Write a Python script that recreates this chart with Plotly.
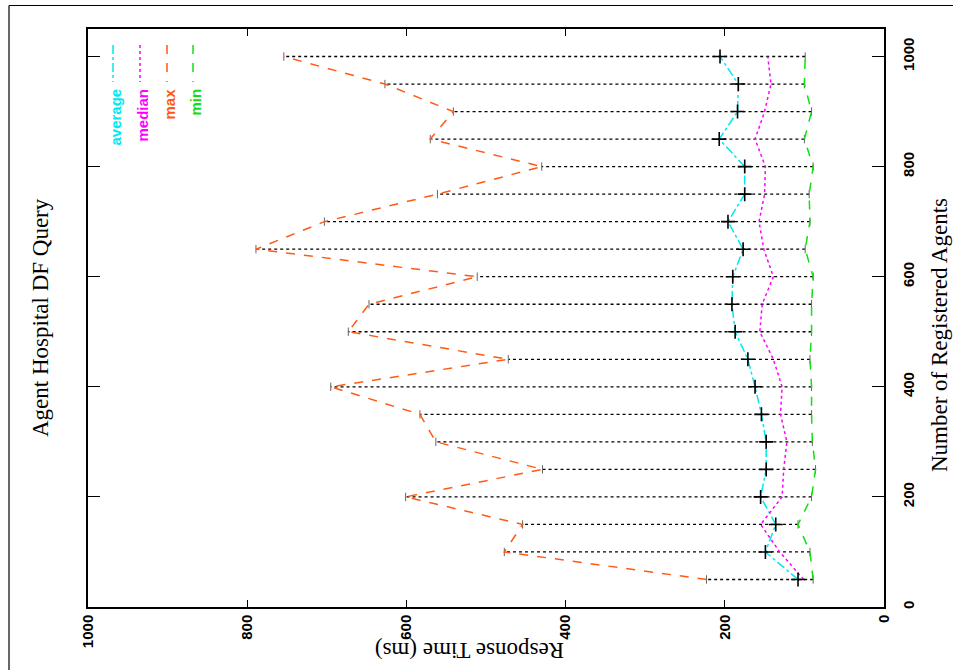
import plotly.graph_objects as go

# ---- data ----
agents = [50, 100, 150, 200, 250, 300, 350, 400, 450, 500,
          550, 600, 650, 700, 750, 800, 850, 900, 950, 1000]
avg_ms = [108, 149, 136, 155, 148, 148, 154, 162, 171, 187,
          191, 190, 177, 196, 175, 175, 207, 184, 183, 206]
median_ms = [101, 131, 155, 128, 126, 122, 130, 128, 139, 156,
             153, 139, 151, 157, 150, 149, 162, 150, 142, 146]
max_ms = [223, 477, 454, 601, 429, 563, 583, 695, 472, 673,
          647, 511, 789, 703, 561, 430, 570, 541, 627, 754]
min_ms = [89, 93, 108, 91, 86, 90, 91, 91, 93, 91,
          91, 89, 99, 93, 94, 89, 100, 91, 100, 99]
resp_ticks = [0, 200, 400, 600, 800, 1000]
agent_ticks = [0, 200, 400, 600, 800, 1000]

title_text = "Agent Hospital DF Query"
x_title = "Number of Registered Agents"
y_title = "Response Time (ms)"
series_names = ["average", "median", "max", "min"]
series_colors = ["#00e8f0", "#ff00ff", "#ff5a14", "#10e010"]
series_dash = ["dashdot", "dot", "dash", "dash"]

W, H = 953, 670
PL, PR, PT, PB = 88, 884, 29, 607          # plot frame in screen pixels
ML, MT = PL, PT
MR, MB = W - PR, H - PB
PW, PH = W - ML - MR, H - MT - MB


def px(xs):
    # screen x -> paper x
    return (xs - ML) / PW


def py(ys):
    # screen y -> paper y
    return (H - MB - ys) / PH


SERIF = "Liberation Serif, Times New Roman, serif"
SANS = "Liberation Sans, Arial, Helvetica, sans-serif"

fig = go.Figure()

# error bars (min -> max), black dotted
eb_x, eb_y = [], []
for a, lo, hi in zip(agents, min_ms, max_ms):
    eb_x += [lo, hi, None]
    eb_y += [a, a, None]
fig.add_trace(go.Scatter(x=eb_x, y=eb_y, mode="lines",
                         line=dict(color="black", width=1.3, dash="dot"),
                         showlegend=False, hoverinfo="skip"))
# caps
fig.add_trace(go.Scatter(x=min_ms + max_ms, y=agents + agents, mode="markers",
                         marker=dict(symbol="line-ns-open", size=6, color="#666",
                                     line=dict(color="#666", width=1)),
                         showlegend=False, hoverinfo="skip"))

series_vals = [avg_ms, median_ms, max_ms, min_ms]
for name, vals, col, dsh in zip(series_names, series_vals, series_colors, series_dash):
    fig.add_trace(go.Scatter(x=vals, y=agents, mode="lines", name=name,
                             line=dict(color=col, width=1.5, dash=dsh),
                             showlegend=False))

# average points (+)
fig.add_trace(go.Scatter(x=avg_ms, y=agents, mode="markers",
                         marker=dict(symbol="cross-thin-open", size=10, color="black",
                                     line=dict(color="black", width=1.6)),
                         showlegend=False, hoverinfo="skip"))

annotations = [
    dict(text=title_text, x=px(40), y=py(318), xref="paper", yref="paper",
         xanchor="center", yanchor="middle",
         textangle=-90, showarrow=False, font=dict(family=SERIF, size=23, color="black")),
    dict(text=x_title, x=px(939), y=py(335), xref="paper", yref="paper",
         xanchor="center", yanchor="middle",
         textangle=-90, showarrow=False, font=dict(family=SERIF, size=23, color="black")),
    dict(text=y_title, x=px(470), y=py(651), xref="paper", yref="paper",
         xanchor="center", yanchor="middle",
         textangle=180, showarrow=False, font=dict(family=SERIF, size=23, color="black")),
]
shapes = [
    dict(type="line", xref="paper", yref="paper", x0=px(9), x1=px(9), y0=py(5.5), y1=py(680),
         line=dict(color="black", width=1.2)),
    dict(type="line", xref="paper", yref="paper", x0=px(9), x1=px(960), y0=py(5.5), y1=py(5.5),
         line=dict(color="black", width=1.2)),
]
leg_x = [113, 140, 167, 193]
for name, col, dsh, lx in zip(series_names, series_colors, series_dash, leg_x):
    shapes.append(dict(type="line", xref="paper", yref="paper",
                       x0=px(lx), x1=px(lx), y0=py(45), y1=py(82),
                       line=dict(color=col, width=1.5, dash=dsh)))
    annotations.append(dict(text="<b>%s</b>" % name, x=px(lx + 2), y=py(87),
                            xref="paper", yref="paper", xanchor="center", yanchor="top",
                            textangle=-90, showarrow=False,
                            font=dict(family=SANS, size=15, color=col)))

fig.update_layout(
    width=W, height=H, autosize=False,
    margin=dict(l=ML, r=MR, t=MT, b=MB, pad=0, autoexpand=False),
    paper_bgcolor="white", plot_bgcolor="white",
    showlegend=False,
    xaxis=dict(range=[1000, 0], tickvals=resp_ticks, automargin=False,
               ticktext=["<b>%d</b>" % v for v in resp_ticks],
               ticks="inside", ticklen=7, tickwidth=1.2, tickcolor="black",
               showline=True, linecolor="black", linewidth=1.5, mirror="ticks",
               showgrid=False, zeroline=False, tickangle=-90,
               tickfont=dict(family=SANS, size=15, color="black")),
    yaxis=dict(range=[0, 1050], tickvals=agent_ticks, automargin=False,
               ticktext=["<b>%d</b>" % v for v in agent_ticks],
               side="right", ticks="inside", ticklen=12, tickwidth=1.2, tickcolor="black",
               showline=True, linecolor="black", linewidth=1.5, mirror="ticks",
               showgrid=False, zeroline=False, tickangle=-90, ticklabelstandoff=10,
               tickfont=dict(family=SANS, size=15, color="black")),
    annotations=annotations,
    shapes=shapes,
)

fig.write_html(
    "out.html",
    config={"displayModeBar": False},
    post_script="document.body.style.margin='0';document.body.style.overflow='hidden';",
)
